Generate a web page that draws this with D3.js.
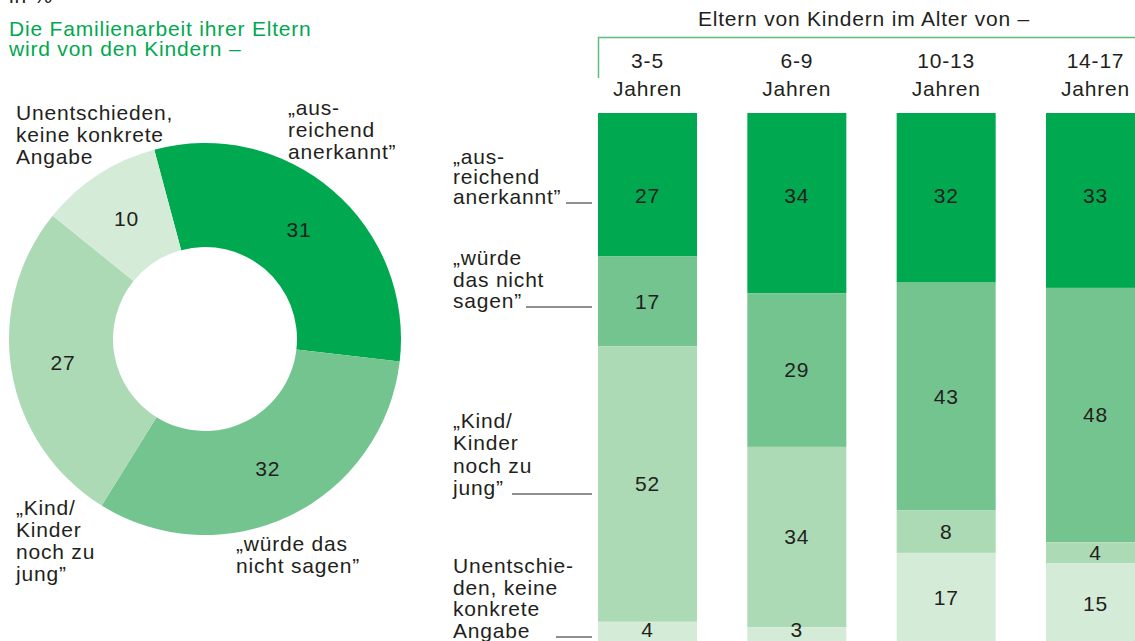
<!DOCTYPE html>
<html><head><meta charset="utf-8">
<script src="https://cdn.jsdelivr.net/npm/d3@7"></script>
<style>
html,body{margin:0;padding:0;background:#fff;}
svg{display:block;font-family:"Liberation Sans",Arial,sans-serif;letter-spacing:0.8px;}
</style></head>
<body>
<svg id="c" width="1135" height="641"></svg>
<script>
// ---- data ----
const donutLabels = ["„ausreichend anerkannt”", "„würde das nicht sagen”", "„Kind/Kinder noch zu jung”", "Unentschieden, keine konkrete Angabe"];
const donutValues = [31, 32, 27, 10];

const ageGroups = ["3-5", "6-9", "10-13", "14-17"];
const seriesNames = ["ausreichend anerkannt", "würde das nicht sagen", "Kind/Kinder noch zu jung", "Unentschieden"];
const anerkannt = [27, 34, 32, 33];
const nichtSagen = [17, 29, 43, 48];
const zuJung = [52, 34, 8, 4];
const unentschieden = [4, 3, 17, 15];

const colors = ["#00a84f", "#73c48f", "#acdab5", "#d4ebd8"];
const textColor = "#231f20";
const FS = 21;

const svg = d3.select("#c");

// ---- titles ----
svg.append("text").attr("x", 9).attr("y", 3).attr("font-size", FS).attr("fill", textColor).text("in %");
svg.append("text").attr("x", 9).attr("y", 36).attr("font-size", FS).attr("fill", "#00a84f").text("Die Familienarbeit ihrer Eltern");
svg.append("text").attr("x", 9).attr("y", 56).attr("font-size", FS).attr("fill", "#00a84f").text("wird von den Kindern –");

// ---- donut ----
const cx = 205, cy = 339, rOuter = 196, rInner = 92;
const pie = d3.pie().sort(null).value(d => d)
  .startAngle(-15 * Math.PI / 180).endAngle(345 * Math.PI / 180);
const arcs = pie(donutValues);
const arc = d3.arc().innerRadius(rInner).outerRadius(rOuter);
const g = svg.append("g").attr("transform", `translate(${cx},${cy})`);
g.selectAll("path").data(arcs).enter().append("path")
  .attr("d", arc).attr("fill", (d, i) => colors[i]);
g.selectAll("text").data(arcs).enter().append("text")
  .attr("transform", d => `translate(${arc.centroid(d)})`)
  .attr("text-anchor", "middle").attr("dy", "0.35em")
  .attr("font-size", FS).attr("fill", textColor)
  .text(d => d.data);

function multiline(x, y, lines, lh, anchor) {
  const t = svg.append("text").attr("x", x).attr("y", y).attr("font-size", FS)
    .attr("fill", textColor).attr("text-anchor", anchor || "start");
  lines.forEach((l, i) => t.append("tspan").attr("x", x).attr("y", y + i * lh).text(l));
  return t;
}
multiline(16, 120, ["Unentschieden,", "keine konkrete", "Angabe"], 22);
multiline(288, 115, ["„aus-", "reichend", "anerkannt”"], 22);
multiline(16, 515, ["„Kind/", "Kinder", "noch zu", "jung”"], 22);
multiline(236, 551, ["„würde das", "nicht sagen”"], 21.5);

// ---- stacked bars ----
const rows = ageGroups.map((a, i) => ({ group: a, s0: anerkannt[i], s1: nichtSagen[i], s2: zuJung[i], s3: unentschieden[i] }));
const stack = d3.stack().keys(["s0", "s1", "s2", "s3"]);
const layers = stack(rows);
const x = d3.scaleBand().domain(ageGroups).range([598, 1145]).paddingInner(0.337).paddingOuter(0);
const y = d3.scaleLinear().domain([0, 100]).range([113, 643]);

const bars = svg.append("g");
layers.forEach((layer, li) => {
  bars.selectAll(null).data(layer).enter().append("rect")
    .attr("x", d => x(d.data.group)).attr("width", x.bandwidth())
    .attr("y", d => y(d[0])).attr("height", d => y(d[1]) - y(d[0]))
    .attr("fill", colors[li]);
  bars.selectAll(null).data(layer).enter().append("text")
    .attr("x", d => x(d.data.group) + x.bandwidth() / 2)
    .attr("y", d => li === 0 ? 196 : Math.min((y(d[0]) + y(d[1])) / 2, 630))
    .attr("dy", "0.35em")
    .attr("text-anchor", "middle").attr("font-size", FS).attr("fill", textColor)
    .text(d => d[1] - d[0]);
});

// header
svg.append("text").attr("x", 864).attr("y", 26).attr("text-anchor", "middle")
  .attr("font-size", FS).attr("fill", textColor).text("Eltern von Kindern im Alter von –");
svg.append("path").attr("d", "M598.5,78V37.5H1135").attr("fill", "none")
  .attr("stroke", "#5cbd7e").attr("stroke-width", 1.5);
ageGroups.forEach(a => {
  const xc = x(a) + x.bandwidth() / 2;
  svg.append("text").attr("x", xc).attr("y", 68).attr("text-anchor", "middle")
    .attr("font-size", FS).attr("fill", textColor).text(a);
  svg.append("text").attr("x", xc).attr("y", 96).attr("text-anchor", "middle")
    .attr("font-size", FS).attr("fill", textColor).text("Jahren");
});

// left category labels with leader lines
const leftLabels = [
  { lines: ["„aus-", "reichend", "anerkannt”"], y: 164, lh: 20, lineFrom: 566, lineY: 203 },
  { lines: ["„würde", "das nicht", "sagen”"], y: 265, lh: 21.5, lineFrom: 526, lineY: 307 },
  { lines: ["„Kind/", "Kinder", "noch zu", "jung”"], y: 428, lh: 22.3, lineFrom: 512, lineY: 494 },
  { lines: ["Unentschie-", "den, keine", "konkrete", "Angabe"], y: 573, lh: 21.7, lineFrom: 556, lineY: 637 }
];
leftLabels.forEach(l => {
  multiline(453, l.y, l.lines, l.lh);
  svg.append("line").attr("x1", l.lineFrom).attr("x2", 592)
    .attr("y1", l.lineY).attr("y2", l.lineY).attr("stroke", textColor).attr("stroke-width", 1);
});
</script>
</body></html>
